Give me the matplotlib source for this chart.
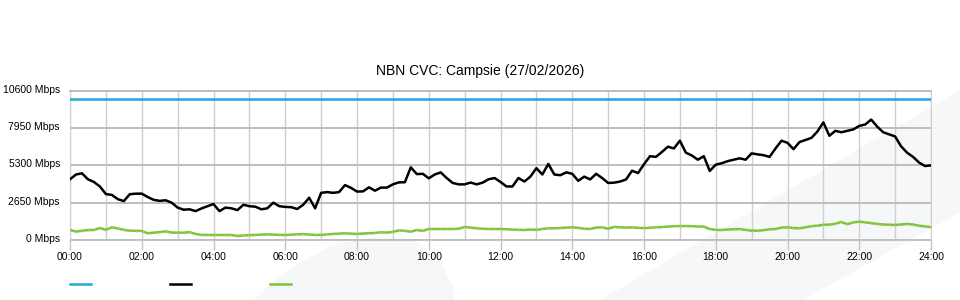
import numpy as np
import matplotlib
matplotlib.use('Agg')
import matplotlib.pyplot as plt
from matplotlib.patches import Polygon
from matplotlib.lines import Line2D
from matplotlib.transforms import ScaledTranslation

plt.rcParams['font.family'] = ['Liberation Sans', 'DejaVu Sans']

# chart data (Mbps, one reading every 10 minutes from 00:00 to 24:00)
title = 'NBN CVC: Campsie (27/02/2026)'
capacity = 10000
throughput = [4310, 4650, 4735, 4310, 4120, 3800, 3260, 3200, 2900, 2760, 3250, 3290,
              3290, 3050, 2850, 2780, 2820, 2650, 2300, 2150, 2180, 2050, 2240, 2400,
              2550, 2050, 2300, 2250, 2120, 2500, 2400, 2365, 2180, 2250, 2650, 2400,
              2350, 2330, 2200, 2500, 3000, 2250, 3350, 3400, 3350, 3400, 3900, 3700,
              3440, 3450, 3740, 3500, 3720, 3720, 3950, 4090, 4100, 5160, 4680, 4700,
              4380, 4650, 4800, 4400, 4050, 3950, 3950, 4080, 3950, 4070, 4310, 4400,
              4120, 3800, 3800, 4400, 4150, 4500, 5100, 4650, 5400, 4650, 4600, 4800,
              4700, 4200, 4500, 4300, 4700, 4400, 4050, 4070, 4150, 4300, 4920, 4750,
              5380, 5950, 5900, 6250, 6625, 6500, 7050, 6200, 6000, 5700, 5950, 4900,
              5350, 5450, 5600, 5700, 5800, 5700, 6150, 6080, 6020, 5900, 6500, 7050,
              6900, 6450, 6950, 7100, 7250, 7700, 8350, 7400, 7750, 7650, 7750, 7850,
              8100, 8200, 8550, 8050, 7650, 7500, 7350, 6650, 6200, 5900, 5500, 5250,
              5300]
upload = [710, 600, 650, 710, 710, 850, 720, 900, 820, 720, 660, 650,
          640, 480, 520, 560, 610, 530, 520, 520, 560, 430, 360, 355,
          355, 355, 355, 355, 290, 320, 340, 360, 380, 400, 380, 370,
          355, 380, 400, 420, 390, 360, 360, 400, 430, 450, 475, 450,
          425, 460, 475, 500, 545, 530, 570, 680, 650, 590, 710, 650,
          780, 780, 780, 780, 780, 800, 920, 880, 830, 800, 780, 780,
          780, 760, 740, 720, 710, 740, 720, 780, 830, 830, 850, 880,
          900, 860, 800, 780, 880, 900, 800, 930, 900, 880, 900, 860,
          840, 870, 900, 920, 950, 980, 990, 990, 980, 960, 950, 780,
          720, 710, 740, 760, 780, 720, 660, 660, 700, 760, 780, 880,
          900, 850, 830, 900, 980, 1015, 1080, 1090, 1150, 1280, 1120, 1250,
          1300, 1250, 1200, 1140, 1100, 1080, 1065, 1100, 1140, 1100, 1015, 960,
          925]
y_ticks = [0, 2650, 5300, 7950, 10600]
x_ticks = list(range(0, 25, 2))
x_labels = ['%02d:00' % h for h in x_ticks]

blue = '#1fa5df'
green = '#80c23c'


def draw_chart():
    fig = plt.figure(figsize=(9.6, 3.0), dpi=100)

    # faint background shapes behind the chart
    swoosh = [(253, 300), (285, 272), (330, 246), (372, 237), (412, 239),
              (438, 258), (452, 285), (455, 300)]
    band = [(600, 300), (960, 90), (960, 212), (803, 300)]
    for shape in (swoosh, band):
        pts = [(x / 960, 1 - y / 300) for x, y in shape]
        fig.patches.append(Polygon(pts, closed=True, transform=fig.transFigure,
                                   facecolor='#f6f7f9', edgecolor='none', zorder=-1))

    ax = fig.add_axes([70 / 960, 0.2, 861 / 960, 0.4977])
    ax.patch.set_alpha(0)

    hours = np.arange(len(throughput)) / 6
    ax.plot([0, 24], [capacity, capacity], color=blue, lw=1.8, zorder=3)
    ax.plot(hours, throughput, color='black', lw=1.8, zorder=3)
    ax.plot(hours, upload, color=green, lw=1.8, marker='o', ms=1.2,
            mfc='#a4d46a', mec='none', zorder=3)

    ax.set_xlim(0, 24)
    ax.set_ylim(0, 10600)
    ax.set_xticks(x_ticks)
    ax.set_xticklabels(x_labels)
    ax.set_xticks(range(25), minor=True)
    ax.set_yticks(y_ticks)
    ax.set_yticklabels(['%d Mbps' % v for v in y_ticks])

    ax.grid(True, axis='x', which='both', color='#cfcfcf', lw=1.0)
    ax.grid(True, axis='y', which='major', color='#bdbdbd', lw=1.4)
    ax.tick_params(axis='x', which='major', length=7, width=1, color='#c4c4c4',
                   labelsize=7.5, pad=1.5)
    ax.tick_params(axis='x', which='minor', length=0)
    ax.tick_params(axis='y', length=0, labelsize=7.5, pad=7.2)
    for side in ('left', 'right'):
        ax.spines[side].set_color('#cfcfcf')
    ax.spines['top'].set_color('#bdbdbd')
    ax.spines['top'].set_linewidth(1.4)
    ax.spines['bottom'].set_color('#c4c4c4')

    # y labels sit a little above their gridline
    for lbl in ax.get_yticklabels():
        lbl.set_transform(lbl.get_transform() + ScaledTranslation(0, 0.02, fig.dpi_scale_trans))

    fig.text(0.5, 1 - 71 / 300, title, ha='center', va='center', fontsize=10)

    handles = [Line2D([], [], color=c, lw=1.8) for c in (blue, 'black', green)]
    fig.legend(handles, ['', '', ''], ncol=3, loc='center left',
               bbox_to_anchor=(70 / 960, 1 - 285 / 300), frameon=False,
               fontsize=7.5, handlelength=2.0, handletextpad=0.8,
               columnspacing=6.8, borderpad=0, borderaxespad=0)

    fig.savefig('out.png', dpi=100)


def main():
    draw_chart()


if __name__ == "__main__":
    main()
